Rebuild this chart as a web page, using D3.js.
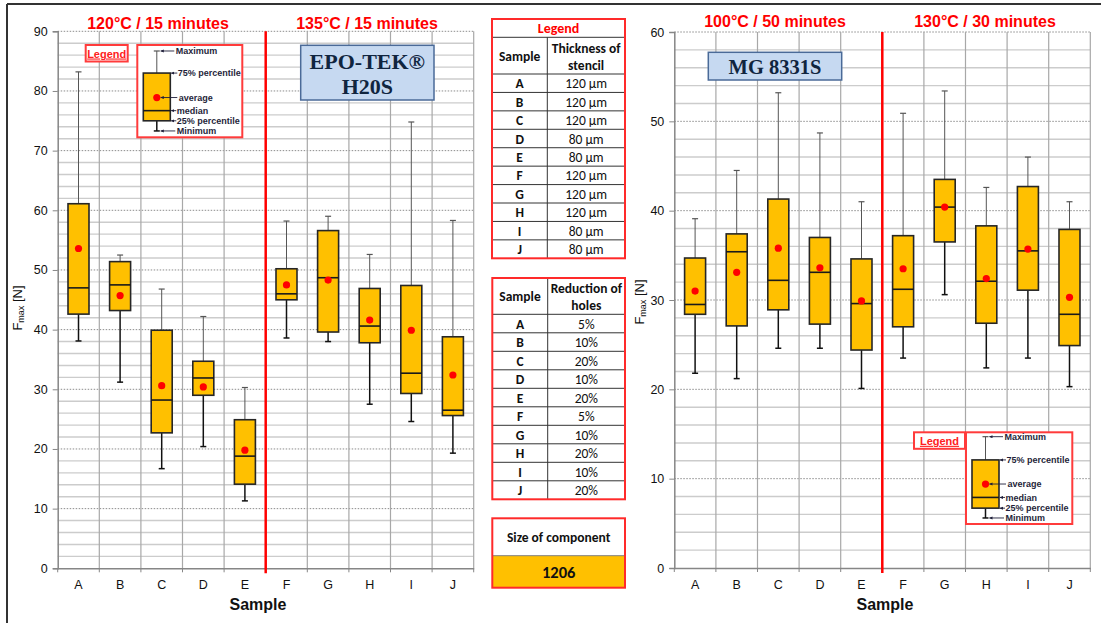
<!DOCTYPE html>
<html><head><meta charset="utf-8">
<script src="https://cdn.jsdelivr.net/npm/d3@7"></script>
<style>body{margin:0;background:#fff} svg{display:block}</style>
</head><body><svg id="c" width="1101" height="623"></svg>
<script>
// ---------- DATA ----------
const categories = ['A','B','C','D','E','F','G','H','I','J'];

// EPO-TEK H20S (left chart)
const h20sMin    = [38.1, 31.2, 16.7, 20.4, 11.3, 38.6, 38.0, 27.5, 24.6, 19.3];
const h20sQ1     = [42.6, 43.2, 22.7, 29.0, 14.1, 45.0, 39.6, 37.8, 29.3, 25.6];
const h20sMedian = [47.0, 47.5, 28.2, 31.9, 18.8, 46.0, 48.7, 40.6, 32.7, 26.5];
const h20sMean   = [53.6, 45.7, 30.6, 30.4, 19.8, 47.5, 48.3, 41.6, 39.9, 32.4];
const h20sQ3     = [61.1, 51.4, 39.9, 34.7, 24.9, 50.2, 56.6, 46.9, 47.4, 38.8];
const h20sMax    = [83.2, 52.5, 46.8, 42.2, 30.3, 58.2, 59.0, 52.6, 74.8, 58.3];

// MG 8331S (right chart)
const mgMin    = [21.8, 21.2, 24.6, 24.6, 20.1, 23.5, 30.6, 22.4, 23.5, 20.3];
const mgQ1     = [28.4, 27.1, 28.9, 27.3, 24.4, 27.0, 36.5, 27.4, 31.1, 24.9];
const mgMedian = [29.5, 35.4, 32.2, 33.1, 29.6, 31.2, 40.4, 32.1, 35.5, 28.4];
const mgMean   = [31.0, 33.1, 35.8, 33.6, 29.9, 33.5, 40.4, 32.4, 35.7, 30.3];
const mgQ3     = [34.7, 37.4, 41.3, 37.0, 34.6, 37.2, 43.5, 38.3, 42.7, 37.9];
const mgMax    = [39.1, 44.5, 53.2, 48.7, 41.0, 50.9, 53.4, 42.6, 46.0, 41.0];

const yTicksLeft  = [0,10,20,30,40,50,60,70,80,90];
const yTicksRight = [0,10,20,30,40,50,60];

const titlesLeft  = ['120°C / 15 minutes', '135°C / 15 minutes'];
const titlesRight = ['100°C / 50 minutes', '130°C / 30 minutes'];

// legend illustration values (in each chart's units)
const legendSampleLeft  = {min:73.3, q1:75.0, median:76.7, mean:78.9, q3:83.0, max:86.7};
const legendSampleRight = {min:5.6, q1:6.7, median:7.9, mean:9.4, q3:12.1, max:14.7};
const legendLabels = ['Maximum','75% percentile','average','median','25% percentile','Minimum'];

// tables
const stencilThickness = ['120 µm','120 µm','120 µm','80 µm','80 µm','120 µm','120 µm','120 µm','80 µm','80 µm'];
const holeReduction = ['5%','10%','20%','10%','20%','5%','10%','20%','10%','20%'];
const componentSize = '1206';

// ---------- DRAW ----------
const svg = d3.select('#c');
const SANS = 'Liberation Sans, Arial, sans-serif';
const SERIF = 'Liberation Serif, Times New Roman, serif';
const TAB = 'Carlito, Lato, sans-serif';

const defs = svg.append('defs');
defs.append('marker').attr('id','arr').attr('viewBox','0 0 6 6').attr('refX',5).attr('refY',3)
  .attr('markerWidth',4).attr('markerHeight',4).attr('orient','auto')
  .append('path').attr('d','M0,0.5 L6,3 L0,5.5 Z').attr('fill','#1f1f3a');

// outer frame
svg.append('line').attr('x1',7).attr('x2',1101).attr('y1',4).attr('y2',4).attr('stroke','#333').attr('stroke-width',2);
svg.append('line').attr('x1',7).attr('x2',7).attr('y1',4).attr('y2',623).attr('stroke','#333').attr('stroke-width',2);

function drawPanel(cfg){
  const g = svg.append('g');
  const x = d3.scaleBand().domain(categories).range([cfg.x0, cfg.x1]).padding(0);
  const y = d3.scaleLinear().domain([0, cfg.ymax]).range([cfg.yb, cfg.yt]);
  const bw = x.bandwidth();

  // minor grid
  const minor = d3.range(0, cfg.ymax + 0.001, 2).filter(v => v % 10 !== 0);
  g.selectAll('.mn').data(minor).join('line')
    .attr('x1', cfg.x0).attr('x2', cfg.x1).attr('y1', d=>y(d)).attr('y2', d=>y(d))
    .attr('stroke','#cccccc').attr('stroke-width',1.4);
  // major grid
  g.selectAll('.mj').data(cfg.ticks.filter(v=>v>0)).join('line')
    .attr('x1', cfg.x0).attr('x2', cfg.x1).attr('y1', d=>y(d)).attr('y2', d=>y(d))
    .attr('stroke','#8c8c8c').attr('stroke-width',1).attr('stroke-dasharray','1.5,1.5');
  // vertical grid
  g.selectAll('.vg').data(categories.slice(1)).join('line')
    .attr('x1', d=>x(d)).attr('x2', d=>x(d)).attr('y1', y(0)).attr('y2', y(cfg.ymax))
    .attr('stroke','#a8a8a8').attr('stroke-width',1.2);
  g.append('line').attr('x1',cfg.x1).attr('x2',cfg.x1).attr('y1',y(0)).attr('y2',y(cfg.ymax))
    .attr('stroke','#a8a8a8').attr('stroke-width',1.2);

  // y axis
  const ya = g.append('g').attr('transform',`translate(${cfg.x0},0)`)
    .call(d3.axisLeft(y).tickValues(cfg.ticks).tickSize(5).tickPadding(5).tickFormat(d3.format('d')));
  ya.select('.domain').attr('stroke','#868686').attr('stroke-width',1.5);
  ya.selectAll('.tick line').attr('stroke','#868686');
  ya.selectAll('text').attr('font-family',SANS).attr('font-size',12.5).attr('fill','#111');

  // x axis
  const xa = g.append('g').attr('transform',`translate(0,${y(0)})`)
    .call(d3.axisBottom(x).tickSize(0).tickPadding(12));
  xa.select('.domain').attr('stroke','#868686').attr('stroke-width',1.5);
  xa.selectAll('text').attr('font-family',SANS).attr('font-size',12.5).attr('fill','#111');
  g.selectAll('.xt').data(d3.range(0, categories.length+1)).join('line')
    .attr('x1', i=>cfg.x0 + i*bw).attr('x2', i=>cfg.x0 + i*bw)
    .attr('y1', y(0)).attr('y2', y(0)+4).attr('stroke','#868686').attr('stroke-width',1);

  // red divider
  g.append('line').attr('x1', x('F')).attr('x2', x('F')).attr('y1', y(cfg.ymax)).attr('y2', y(0)+5)
    .attr('stroke','#ff0000').attr('stroke-width',2.5);

  // box plots
  const rows = categories.map((c,i)=>({c, min:cfg.d.min[i], q1:cfg.d.q1[i], median:cfg.d.median[i], mean:cfg.d.mean[i], q3:cfg.d.q3[i], max:cfg.d.max[i]}));
  const boxW = 21, capW = 6;
  const bx = g.selectAll('.box').data(rows).join('g').attr('transform', d=>`translate(${x(d.c)+bw/2},0)`);
  drawBox(bx, y, boxW, capW);

  // titles
  cfg.titles.forEach((t,k)=>{
    g.append('text').attr('x', cfg.titleX[k]).attr('y', cfg.titleY).attr('text-anchor','middle')
      .attr('font-family',SANS).attr('font-weight','bold').attr('font-size',16).attr('fill','#ff0000').text(t);
  });

  // x title
  g.append('text').attr('x', cfg.xTitleX).attr('y', 610).attr('text-anchor','middle')
    .attr('font-family',SANS).attr('font-weight','bold').attr('font-size',16).attr('fill','#111').text('Sample');

  // y title
  const yt = g.append('text').attr('transform',`translate(${cfg.yTitleX},${cfg.yTitleY}) rotate(-90)`)
    .attr('text-anchor','middle').attr('font-family',SANS).attr('font-size',13).attr('fill','#111');
  yt.append('tspan').text('F');
  yt.append('tspan').attr('font-size',9).attr('dy',2).text('max');
  yt.append('tspan').attr('dy',-2).text(' [N]');

  // material label box
  const lb = cfg.label;
  g.append('rect').attr('x',lb.x).attr('y',lb.y).attr('width',lb.w).attr('height',lb.h)
    .attr('fill','#c6d9f1').attr('stroke','#4a6a98').attr('stroke-width',1.5);
  lb.lines.forEach((t,k)=>{
    g.append('text').attr('x', lb.x+lb.w/2).attr('y', lb.baselines[k]).attr('text-anchor','middle')
      .attr('font-family',SERIF).attr('font-weight','bold').attr('font-size',lb.fs).attr('fill','#10253f').text(t);
  });

  // legend
  drawLegend(g, y, cfg.legend);
}

function drawBox(sel, y, boxW, capW){
  sel.append('line').attr('x1',0).attr('x2',0).attr('y1',d=>y(d.q3)).attr('y2',d=>y(d.max))
    .attr('stroke','#555').attr('stroke-width',1);
  sel.append('line').attr('x1',-capW/2).attr('x2',capW/2).attr('y1',d=>y(d.max)).attr('y2',d=>y(d.max))
    .attr('stroke','#555').attr('stroke-width',1.2);
  sel.append('line').attr('x1',0).attr('x2',0).attr('y1',d=>y(d.q1)).attr('y2',d=>y(d.min))
    .attr('stroke','#111').attr('stroke-width',1.5);
  sel.append('line').attr('x1',-capW/2).attr('x2',capW/2).attr('y1',d=>y(d.min)).attr('y2',d=>y(d.min))
    .attr('stroke','#111').attr('stroke-width',1.5);
  sel.append('rect').attr('x',-boxW/2).attr('width',boxW).attr('y',d=>y(d.q3)).attr('height',d=>y(d.q1)-y(d.q3))
    .attr('fill','#ffc000').attr('stroke','#262626').attr('stroke-width',1.6);
  sel.append('line').attr('x1',-boxW/2).attr('x2',boxW/2).attr('y1',d=>y(d.median)).attr('y2',d=>y(d.median))
    .attr('stroke','#1a1a1a').attr('stroke-width',1.6);
  sel.append('circle').attr('cx',0).attr('cy',d=>y(d.mean)).attr('r',3.6).attr('fill','#ff0000');
}

function drawLegend(g, y, L){
  // small "Legend" tag
  g.append('rect').attr('x',L.tx).attr('y',L.by).attr('width',L.tw).attr('height',16.5)
    .attr('fill','#fff').attr('stroke','#ff3b3b').attr('stroke-width',2);
  g.append('text').attr('x',L.tx+L.tw/2).attr('y',L.by+12.5).attr('text-anchor','middle')
    .attr('font-family',SANS).attr('font-weight','bold').attr('font-size',11).attr('fill','#ff2020')
    .attr('text-decoration','underline').text('Legend');
  // main frame
  g.append('rect').attr('x',L.bx).attr('y',L.by).attr('width',L.bw).attr('height',L.bh)
    .attr('fill','#fff').attr('stroke','#ff3b3b').attr('stroke-width',2);
  const s = L.sample;
  const wx = L.bx + 19.5;
  const bs = g.append('g').datum(s).attr('transform',`translate(${wx},0)`);
  drawBox(bs, y, 27, 6);
  const bxR = 27/2; // box half width
  const items = [
    {v:s.max, t:legendLabels[0], lx:38.5, from:37, to:4},
    {v:s.q3, t:legendLabels[1], lx:40.5, from:40, to:bxR+1},
    {v:s.mean, t:legendLabels[2], lx:41.5, from:40, to:4},
    {v:s.median, t:legendLabels[3], lx:39.5, from:39, to:bxR+1},
    {v:s.q1, t:legendLabels[4], lx:39.5, from:39, to:bxR+1},
    {v:s.min, t:legendLabels[5], lx:39.5, from:38, to:4}
  ];
  items.forEach(it=>{
    const yy = y(it.v);
    g.append('line').attr('x1', L.bx+it.from).attr('x2', wx+it.to).attr('y1',yy).attr('y2',yy)
      .attr('stroke','#1f1f3a').attr('stroke-width',0.9).attr('marker-end','url(#arr)');
    g.append('text').attr('x', L.bx+it.lx).attr('y', yy+3.2)
      .attr('font-family',SANS).attr('font-weight','bold').attr('font-size',9).attr('fill','#1f1f3a').text(it.t);
  });
}

// left panel
drawPanel({
  x0:57.7, x1:473.7, yt:31.3, yb:568.3, ymax:90, ticks:yTicksLeft,
  d:{min:h20sMin,q1:h20sQ1,median:h20sMedian,mean:h20sMean,q3:h20sQ3,max:h20sMax},
  titles:titlesLeft, titleX:[158,367], titleY:28.5,
  xTitleX:258, yTitleX:22, yTitleY:308,
  label:{x:300.7,y:45.3,w:133.3,h:54.7,lines:['EPO-TEK®','H20S'],baselines:[68.5,94],fs:22},
  legend:{tx:85.7, tw:42, bx:137.3, by:45, bw:105, bh:92.3, sample:legendSampleLeft}
});

// right panel
drawPanel({
  x0:674.3, x1:1090.3, yt:32, yb:568, ymax:60, ticks:yTicksRight,
  d:{min:mgMin,q1:mgQ1,median:mgMedian,mean:mgMean,q3:mgQ3,max:mgMax},
  titles:titlesRight, titleX:[775,985], titleY:27,
  xTitleX:885, yTitleX:644, yTitleY:302,
  label:{x:708.3,y:52.3,w:133.4,h:27.7,lines:['MG 8331S'],baselines:[74],fs:20.5},
  legend:{tx:914, tw:51, bx:966, by:432.3, bw:106.3, bh:91.7, sample:legendSampleRight}
});

// ---------- TABLES ----------
function drawTable(x0, x1, xDiv, yTop, headerH, rowH, topRowH, headerLines, col2Vals){
  const g = svg.append('g');
  const midL = (x0+xDiv)/2, midR = (xDiv+x1)/2;
  let yCur = yTop;
  if (topRowH){
    g.append('text').attr('x',(x0+x1)/2).attr('y',yTop+topRowH/2+5).attr('text-anchor','middle')
      .attr('font-family',TAB).attr('font-weight','bold').attr('font-size',14).attr('fill','#ff0000').text('Legend');
    yCur += topRowH;
    g.append('line').attr('x1',x0).attr('x2',x1).attr('y1',yCur).attr('y2',yCur).attr('stroke','#333').attr('stroke-width',1);
  }
  const yHead = yCur;
  g.append('text').attr('x',midL).attr('y',yHead+headerH/2+5).attr('text-anchor','middle')
    .attr('font-family',TAB).attr('font-weight','bold').attr('font-size',13.5).attr('fill','#111').text('Sample');
  headerLines.forEach((t,k)=>{
    g.append('text').attr('x',midR).attr('y',yHead+headerH/2 - 3 + k*17).attr('text-anchor','middle')
      .attr('font-family',TAB).attr('font-weight','bold').attr('font-size',13.5).attr('fill','#111').text(t);
  });
  const yRows = yHead + headerH;
  const ry = d3.scaleBand().domain(categories).range([yRows, yRows + rowH*categories.length]);
  g.selectAll('.hl').data(categories).join('line')
    .attr('x1',x0).attr('x2',x1).attr('y1',d=>ry(d)).attr('y2',d=>ry(d)).attr('stroke','#333').attr('stroke-width',1);
  g.append('line').attr('x1',xDiv).attr('x2',xDiv).attr('y1',yHead).attr('y2',yRows+rowH*10).attr('stroke','#333').attr('stroke-width',1);
  g.selectAll('.cl').data(categories).join('text')
    .attr('x',midL).attr('y',d=>ry(d)+rowH/2+5).attr('text-anchor','middle')
    .attr('font-family',TAB).attr('font-weight','bold').attr('font-size',13.5).attr('fill','#111').text(d=>d);
  g.selectAll('.cv').data(categories).join('text')
    .attr('x',midR).attr('y',d=>ry(d)+rowH/2+5).attr('text-anchor','middle')
    .attr('font-family',TAB).attr('font-size',13.5).attr('fill','#111').text((d,i)=>col2Vals[i]);
  const yBot = yRows + rowH*categories.length;
  g.append('rect').attr('x',x0).attr('y',yTop).attr('width',x1-x0).attr('height',yBot-yTop)
    .attr('fill','none').attr('stroke','#ff2a2a').attr('stroke-width',2);
}

drawTable(492, 625, 547.3, 19, 36.7, 18.43, 18.3, ['Thickness of','stencil'], stencilThickness);
drawTable(492.3, 625, 547.7, 278, 36.3, 18.5, 0, ['Reduction of','holes'], holeReduction);

// size of component
(function(){
  const g = svg.append('g');
  const x0=492.3, x1=625, yT=518.3, yM=555.7, yB=587.7;
  g.append('rect').attr('x',x0).attr('y',yM).attr('width',x1-x0).attr('height',yB-yM).attr('fill','#ffc000');
  g.append('line').attr('x1',x0).attr('x2',x1).attr('y1',yM).attr('y2',yM).attr('stroke','#7f7f7f').attr('stroke-width',1);
  g.append('rect').attr('x',x0).attr('y',yT).attr('width',x1-x0).attr('height',yB-yT)
    .attr('fill','none').attr('stroke','#ff2a2a').attr('stroke-width',2);
  g.append('text').attr('x',(x0+x1)/2).attr('y',(yT+yM)/2+5).attr('text-anchor','middle')
    .attr('font-family',TAB).attr('font-weight','bold').attr('font-size',13.5).attr('fill','#111').text('Size of component');
  g.append('text').attr('x',(x0+x1)/2).attr('y',(yM+yB)/2+6).attr('text-anchor','middle')
    .attr('font-family',TAB).attr('font-weight','bold').attr('font-size',16.5).attr('fill','#111').text(componentSize);
})();
</script></body></html>
